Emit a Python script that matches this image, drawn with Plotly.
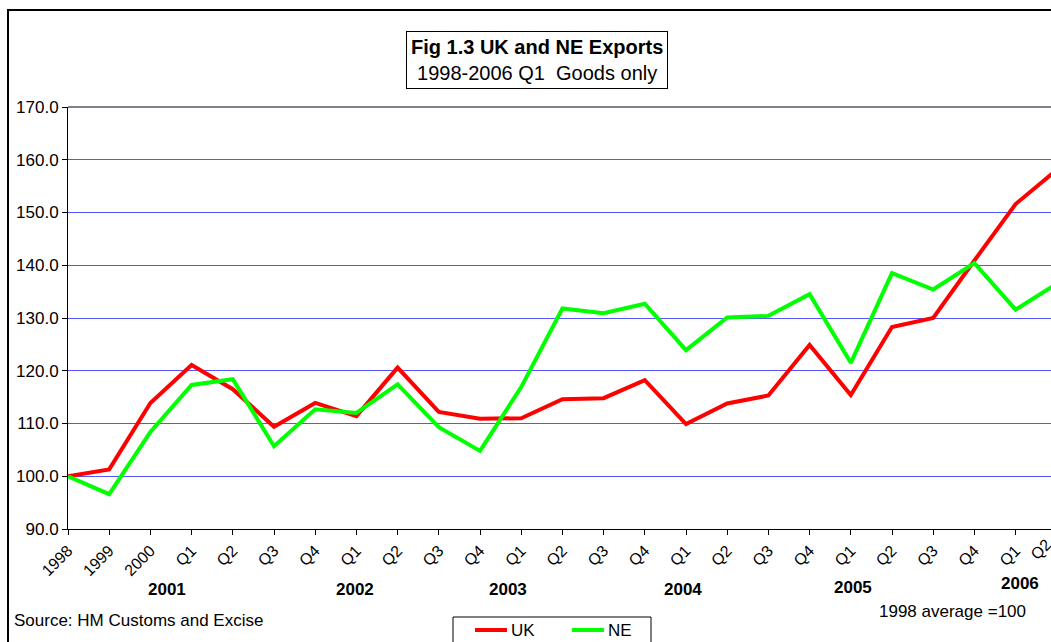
import plotly.graph_objects as go

# ---- data ----
labels = ["1998", "1999", "2000", "Q1", "Q2", "Q3", "Q4", "Q1", "Q2", "Q3", "Q4",
          "Q1", "Q2", "Q3", "Q4", "Q1", "Q2", "Q3", "Q4", "Q1", "Q2", "Q3", "Q4",
          "Q1", "Q2"]
uk = [100.0, 101.3, 113.9, 121.1, 116.5, 109.4, 113.9, 111.4, 120.6, 112.2, 110.9,
      111.0, 114.6, 114.8, 118.2, 109.9, 113.8, 115.3, 124.9, 115.4, 128.3, 130.0,
      140.9, 151.6, 158.1]
ne = [100.0, 96.6, 108.4, 117.3, 118.4, 105.7, 112.7, 112.0, 117.4, 109.3, 104.8,
      116.9, 131.8, 130.9, 132.7, 123.9, 130.1, 130.4, 134.5, 121.5, 138.5, 135.4,
      140.4, 131.6, 136.5]
series_names = ["UK", "NE"]
series_colors = ["#FF0000", "#00FF00"]
years = ["2001", "2002", "2003", "2004", "2005", "2006"]
y_ticks = [90, 100, 110, 120, 130, 140, 150, 160, 170]

# ---- layout constants ----
W, H = 1051, 642
L, R, T, B = 68, 0, 107, 113
FONT = "Liberation Sans, Arial, sans-serif"
x = list(range(len(labels)))
pw = W - L - R
ph = H - T - B
spacing = 41.2
xmax = pw / spacing


def px_x(p):
    return (p - L) / pw


def px_y(p):
    return (H - B - p) / ph


fig = go.Figure()
for name, vals, col in zip(series_names, [uk, ne], series_colors):
    fig.add_trace(go.Scatter(x=x, y=vals, name=name, mode="lines",
                             line=dict(color=col, width=4), showlegend=False))

year_pos = [2.4, 6.97, 10.68, 14.93, 19.05, 23.1]
year_y = [589, 589, 589, 589, 587, 583]
annotations = []
for yr, xp, yp in zip(years, year_pos, year_y):
    annotations.append(dict(text="<b>%s</b>" % yr, x=xp, xref="x", y=px_y(yp), yref="paper",
                            showarrow=False, font=dict(size=17, color="black", family=FONT),
                            xanchor="center", yanchor="middle"))
# last tick label (falls at the clipped right edge)
annotations.append(dict(text=labels[-1], x=px_x(L + (len(labels) - 1) * spacing), xref="paper",
                        y=px_y(533), yref="paper", showarrow=False, textangle=-45,
                        font=dict(size=16, color="black", family=FONT),
                        xanchor="right", yanchor="top"))
annotations.append(dict(text="<b>Fig 1.3 UK and NE Exports</b><br>1998-2006 Q1\u00a0 Goods only",
                        x=px_x(537), xref="paper", y=px_y(60), yref="paper",
                        showarrow=False, font=dict(size=20, color="black", family=FONT),
                        bordercolor="black", borderwidth=1, borderpad=4, bgcolor="white",
                        xanchor="center", yanchor="middle"))
annotations.append(dict(text="Source: HM Customs and Excise", x=px_x(12), xref="paper",
                        y=px_y(620), yref="paper", showarrow=False,
                        font=dict(size=17, color="black", family=FONT),
                        xanchor="left", yanchor="middle"))
annotations.append(dict(text="1998 average =100", x=px_x(952), xref="paper",
                        y=px_y(611), yref="paper", showarrow=False,
                        font=dict(size=17, color="black", family=FONT),
                        xanchor="center", yanchor="middle"))

shapes = [
    dict(type="rect", xref="paper", yref="paper", x0=px_x(8), x1=px_x(W + 20),
         y0=px_y(H + 20), y1=px_y(10), line=dict(color="black", width=2)),
    dict(type="line", xref="paper", yref="paper", x0=0, x1=1, y0=1, y1=1,
         line=dict(color="#808090", width=2)),
    # legend box
    dict(type="rect", xref="paper", yref="paper", x0=px_x(453), x1=px_x(651),
         y0=px_y(H + 10), y1=px_y(617), line=dict(color="black", width=1),
         fillcolor="white"),
]
# legend entries
leg_line_x = [475, 572]
leg_y = 630
for name, col, lx in zip(series_names, series_colors, leg_line_x):
    shapes.append(dict(type="line", xref="paper", yref="paper", x0=px_x(lx), x1=px_x(lx + 32),
                       y0=px_y(leg_y), y1=px_y(leg_y), line=dict(color=col, width=4)))
    annotations.append(dict(text=name, x=px_x(lx + 34), xref="paper", y=px_y(leg_y),
                            yref="paper", showarrow=False, xanchor="left", yanchor="middle",
                            font=dict(size=17, color="black", family=FONT)))

fig.update_layout(
    width=W, height=H,
    margin=dict(l=L, r=R, t=T, b=B),
    paper_bgcolor="white", plot_bgcolor="white",
    font=dict(family=FONT, size=17, color="black"),
    showlegend=False,
    xaxis=dict(range=[0, xmax], tickmode="array", tickvals=x, ticktext=labels,
               tickangle=-45, showgrid=False, zeroline=False,
               showline=True, linecolor="black", linewidth=1,
               ticks="outside", ticklen=5, tickcolor="black",
               tickfont=dict(size=16, family=FONT)),
    yaxis=dict(range=[90, 170], tickmode="array", tickvals=y_ticks,
               tickformat=".1f", showgrid=True, gridcolor="#5555FF", gridwidth=1,
               zeroline=False, showline=True, linecolor="black", linewidth=1,
               ticks="outside", ticklen=5, tickcolor="black",
               tickfont=dict(size=17, family=FONT)),
    annotations=annotations,
    shapes=shapes,
)

fig.write_html("out.html", config={"displayModeBar": False},
               post_script="document.body.style.margin='0px';document.body.style.overflow='hidden';")
